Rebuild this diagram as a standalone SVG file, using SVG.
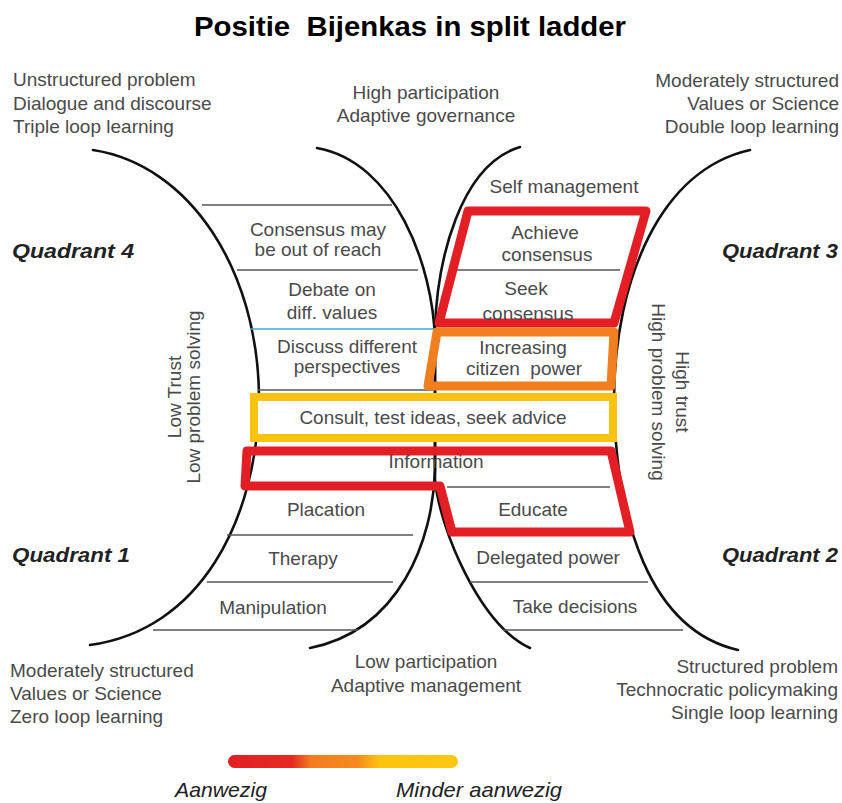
<svg xmlns="http://www.w3.org/2000/svg" width="842" height="803" viewBox="0 0 842 803">
<style>
text{font-family:"Liberation Sans",Arial,sans-serif;fill:#4a4a4a;font-size:19px}
.c{text-anchor:middle}
.e{text-anchor:end}
.title{font-weight:bold;font-size:28.5px;fill:#000}
.q{font-weight:bold;font-style:italic;font-size:21px;fill:#222}
.lg{font-style:italic;font-size:21px;fill:#222}
.rail{fill:none;stroke:#111;stroke-width:2.6;stroke-linecap:round}
.rung{stroke:#555;stroke-width:1.6}
.box{fill:none;stroke-linejoin:round}
</style>
<defs>
<linearGradient id="lgd" x1="0" y1="0" x2="1" y2="0">
<stop offset="0" stop-color="#e31e24"/>
<stop offset="0.28" stop-color="#e62a22"/>
<stop offset="0.36" stop-color="#f47c20"/>
<stop offset="0.56" stop-color="#f58a1f"/>
<stop offset="0.66" stop-color="#fcc30f"/>
<stop offset="1" stop-color="#fcc80f"/>
</linearGradient>
</defs>
<rect width="842" height="803" fill="#fff"/>
<text class="title c" x="410" y="36" textLength="432" lengthAdjust="spacingAndGlyphs">Positie&#160; Bijenkas in split ladder</text>

<g id="rails">
<path class="rail" d="M93,150 C190,165 258,270 259,397 C258,520 200,630 90,645"/>
<path class="rail" d="M317,148 C395,162 433,265 435,340 L435,470 C433,540 400,630 310,648"/>
<path class="rail" d="M520,147 C460,165 437,260 435,330 L435,480 C440,530 480,625 530,648"/>
<path class="rail" d="M750,150 C660,170 615,280 614,397 C615,520 650,630 738,650"/>
</g>

<g id="rungs">
<line class="rung" x1="202" y1="205" x2="392" y2="205"/>
<line class="rung" x1="237" y1="270" x2="418" y2="270"/>
<line x1="250" y1="329" x2="435" y2="329" stroke="#3fa9d8" stroke-width="1.6"/>
<line class="rung" x1="258" y1="390" x2="433" y2="390"/>
<line class="rung" x1="455" y1="270" x2="620" y2="270"/>
<line class="rung" x1="447" y1="487" x2="610" y2="487"/>
<line class="rung" x1="227" y1="535" x2="413" y2="535"/>
<line class="rung" x1="207" y1="582" x2="393" y2="582"/>
<line class="rung" x1="153" y1="630" x2="358" y2="630"/>
<line class="rung" x1="470" y1="582" x2="648" y2="582"/>
<line class="rung" x1="503" y1="630" x2="683" y2="630"/>
</g>

<g id="box-red-top">
<polygon class="box" points="468,211 646,211 614,323 439,323" stroke="#e31e24" stroke-width="9"/>
</g>
<g id="box-orange">
<polygon class="box" points="437,332 614,332 611,386 428,386" stroke="#f07f1f" stroke-width="9"/>
</g>
<g id="box-yellow">
<rect x="254" y="397" width="359" height="41" fill="#fff" stroke="#fbc311" stroke-width="8"/>
</g>
<g id="box-red-bottom">
<path class="box" d="M247,451 L611,451 L630,532 L452,532 L440,486 L245,486 Z" stroke="#e31e24" stroke-width="9"/>
</g>

<g id="corner-texts">
<text x="13" y="86">Unstructured problem</text>
<text x="13" y="110">Dialogue and discourse</text>
<text x="13" y="133">Triple loop learning</text>
<text class="c" x="426" y="99">High participation</text>
<text class="c" x="426" y="122">Adaptive governance</text>
<text class="e" x="839" y="87">Moderately structured</text>
<text class="e" x="839" y="110">Values or Science</text>
<text class="e" x="839" y="133">Double loop learning</text>
<text x="10" y="677">Moderately structured</text>
<text x="10" y="700">Values or Science</text>
<text x="10" y="723">Zero loop learning</text>
<text class="c" x="426" y="668">Low participation</text>
<text class="c" x="426" y="692">Adaptive management</text>
<text class="e" x="838" y="673">Structured problem</text>
<text class="e" x="838" y="696">Technocratic policymaking</text>
<text class="e" x="838" y="719">Single loop learning</text>
</g>

<g id="quadrants">
<text class="q" x="12" y="258" textLength="122" lengthAdjust="spacingAndGlyphs">Quadrant 4</text>
<text class="q" x="722" y="258" textLength="116" lengthAdjust="spacingAndGlyphs">Quadrant 3</text>
<text class="q" x="12" y="562" textLength="118" lengthAdjust="spacingAndGlyphs">Quadrant 1</text>
<text class="q" x="722" y="562" textLength="116" lengthAdjust="spacingAndGlyphs">Quadrant 2</text>
</g>

<g id="axis-left">
<text class="c" transform="translate(181,397) rotate(-90)">Low Trust</text>
<text class="c" transform="translate(200,397) rotate(-90)">Low problem solving</text>
</g>
<g id="axis-right">
<text class="c" transform="translate(676,392) rotate(90)">High trust</text>
<text class="c" transform="translate(652,392) rotate(90)">High problem solving</text>
</g>

<g id="n-consensus-reach"><text class="c" x="318" y="236">Consensus may</text><text class="c" x="318" y="256">be out of reach</text></g>
<g id="n-debate"><text class="c" x="332" y="296">Debate on</text><text class="c" x="332" y="319">diff. values</text></g>
<g id="n-discuss"><text class="c" x="347" y="353">Discuss different</text><text class="c" x="347" y="373">perspectives</text></g>
<g id="n-self"><text class="c" x="564" y="193">Self management</text></g>
<g id="n-achieve"><text class="c" x="545" y="239">Achieve</text><text class="c" x="547" y="261">consensus</text></g>
<g id="n-seek"><text class="c" x="526" y="295">Seek</text><text class="c" x="528" y="320">consensus</text></g>
<g id="n-increasing"><text class="c" x="523" y="354">Increasing</text><text class="c" x="524" y="375">citizen&#160; power</text></g>
<g id="n-consult"><text class="c" x="433" y="424">Consult, test ideas, seek advice</text></g>
<g id="n-information"><text class="c" x="436" y="468">Information</text></g>
<g id="n-placation"><text class="c" x="326" y="516">Placation</text></g>
<g id="n-educate"><text class="c" x="533" y="516">Educate</text></g>
<g id="n-therapy"><text class="c" x="303" y="565">Therapy</text></g>
<g id="n-manipulation"><text class="c" x="273" y="614">Manipulation</text></g>
<g id="n-delegated"><text class="c" x="548" y="564">Delegated power</text></g>
<g id="n-take"><text class="c" x="575" y="613">Take decisions</text></g>

<g id="legend">
<rect x="228" y="755" width="230" height="13" rx="6.5" fill="url(#lgd)"/>
<text class="lg" x="175" y="797" textLength="92" lengthAdjust="spacingAndGlyphs">Aanwezig</text>
<text class="lg" x="396" y="797" textLength="166" lengthAdjust="spacingAndGlyphs">Minder aanwezig</text>
</g>
</svg>
